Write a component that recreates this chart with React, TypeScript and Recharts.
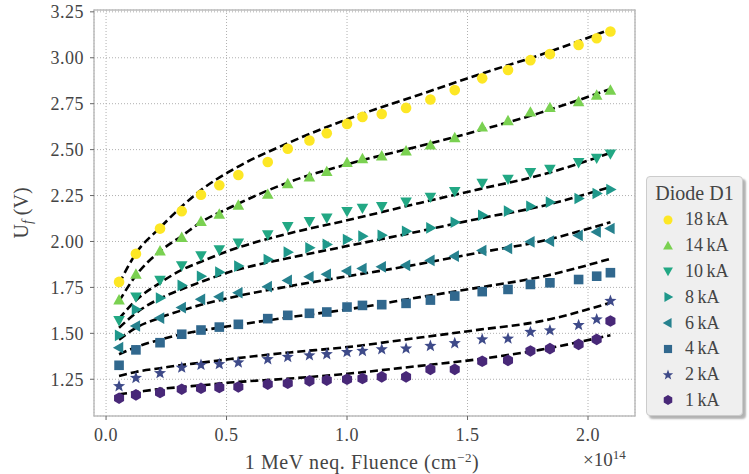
import React from 'react';
import { ComposedChart, Scatter, Line, XAxis, YAxis, CartesianGrid, ReferenceArea, Label } from 'recharts';

// 1 MeV neq. fluence in units of 1e14 cm^-2
const FLUENCE = [0.054, 0.124, 0.224, 0.314, 0.394, 0.47, 0.549, 0.671, 0.754, 0.844, 0.916, 1.0, 1.064, 1.144, 1.245, 1.346, 1.447, 1.561, 1.668, 1.761, 1.842, 1.961, 2.036, 2.093];

// forward voltage U_f (V) per pulse current
const U_18KA = [1.78, 1.933, 2.07, 2.165, 2.254, 2.306, 2.362, 2.433, 2.505, 2.55, 2.589, 2.64, 2.678, 2.694, 2.727, 2.773, 2.824, 2.888, 2.933, 2.987, 3.02, 3.07, 3.106, 3.143];
const U_14KA = [1.68, 1.82, 1.947, 2.02, 2.107, 2.147, 2.196, 2.255, 2.313, 2.35, 2.379, 2.428, 2.449, 2.464, 2.491, 2.523, 2.563, 2.621, 2.656, 2.703, 2.727, 2.759, 2.795, 2.822];
const U_10KA = [1.571, 1.7, 1.79, 1.87, 1.924, 1.957, 1.993, 2.038, 2.083, 2.11, 2.129, 2.165, 2.183, 2.192, 2.216, 2.243, 2.273, 2.319, 2.341, 2.377, 2.395, 2.431, 2.455, 2.478];
const U_8KA = [1.489, 1.63, 1.692, 1.761, 1.811, 1.833, 1.866, 1.902, 1.942, 1.966, 1.984, 2.011, 2.029, 2.034, 2.056, 2.074, 2.105, 2.143, 2.165, 2.192, 2.214, 2.234, 2.261, 2.283];
const U_6KA = [1.422, 1.54, 1.583, 1.64, 1.685, 1.699, 1.721, 1.754, 1.788, 1.808, 1.821, 1.839, 1.853, 1.862, 1.87, 1.897, 1.92, 1.951, 1.962, 1.998, 2.002, 2.033, 2.052, 2.071];
const U_4KA = [1.326, 1.41, 1.449, 1.495, 1.518, 1.534, 1.549, 1.58, 1.598, 1.609, 1.616, 1.643, 1.652, 1.656, 1.663, 1.681, 1.703, 1.727, 1.739, 1.766, 1.775, 1.793, 1.811, 1.83];
const U_2KA = [1.212, 1.257, 1.283, 1.313, 1.328, 1.332, 1.341, 1.359, 1.371, 1.38, 1.386, 1.398, 1.404, 1.413, 1.417, 1.431, 1.446, 1.467, 1.471, 1.507, 1.516, 1.545, 1.576, 1.676];
const U_1KA = [1.147, 1.165, 1.178, 1.196, 1.201, 1.205, 1.208, 1.223, 1.228, 1.241, 1.245, 1.25, 1.254, 1.263, 1.263, 1.304, 1.304, 1.348, 1.353, 1.404, 1.417, 1.44, 1.467, 1.567];

// fitted curves, sampled along the fluence axis
const FIT_FLUENCE = [0.054, 0.124, 0.224, 0.314, 0.394, 0.515, 0.763, 1.0, 1.303, 1.55, 1.8, 2.093];
const FIT_18KA = [1.77, 1.935, 2.075, 2.19, 2.28, 2.383, 2.54, 2.665, 2.8, 2.91, 3.015, 3.155];
const FIT_14KA = [1.675, 1.815, 1.947, 2.03, 2.105, 2.185, 2.325, 2.42, 2.52, 2.605, 2.7, 2.83];
const FIT_10KA = [1.58, 1.68, 1.775, 1.845, 1.89, 1.952, 2.045, 2.115, 2.21, 2.285, 2.36, 2.482];
const FIT_8KA = [1.53, 1.61, 1.69, 1.74, 1.78, 1.835, 1.911, 1.975, 2.056, 2.125, 2.19, 2.297];
const FIT_6KA = [1.465, 1.53, 1.585, 1.625, 1.655, 1.694, 1.757, 1.81, 1.878, 1.94, 2.0, 2.105];
const FIT_4KA = [1.386, 1.425, 1.465, 1.495, 1.515, 1.54, 1.588, 1.63, 1.697, 1.75, 1.806, 1.906];
const FIT_2KA = [1.268, 1.29, 1.31, 1.328, 1.34, 1.36, 1.396, 1.425, 1.477, 1.52, 1.565, 1.667];
const FIT_1KA = [1.168, 1.18, 1.197, 1.208, 1.217, 1.232, 1.254, 1.28, 1.323, 1.36, 1.41, 1.49];

const X_TICKS = [0, 0.5, 1, 1.5, 2];
const Y_TICKS = [1.25, 1.5, 1.75, 2, 2.25, 2.5, 2.75, 3, 3.25];

const SERIES = [
  { name: '18\u2009kA', color: '#fde725', marker: 'circle', values: U_18KA, fit: FIT_18KA },
  { name: '14\u2009kA', color: '#7ad151', marker: 'up', values: U_14KA, fit: FIT_14KA },
  { name: '10\u2009kA', color: '#22a884', marker: 'down', values: U_10KA, fit: FIT_10KA },
  { name: '8\u2009kA', color: '#1f988b', marker: 'right', values: U_8KA, fit: FIT_8KA },
  { name: '6\u2009kA', color: '#26818e', marker: 'left', values: U_6KA, fit: FIT_6KA },
  { name: '4\u2009kA', color: '#31688e', marker: 'square', values: U_4KA, fit: FIT_4KA },
  { name: '2\u2009kA', color: '#3e4a89', marker: 'star', values: U_2KA, fit: FIT_2KA },
  { name: '1\u2009kA', color: '#482878', marker: 'hexagon', values: U_1KA, fit: FIT_1KA },
];

const FONT = 'Liberation Serif, DejaVu Serif, serif';
const TEXT = '#444';

const toPoints = (xs: number[], ys: number[]) => xs.map((x, i) => ({ x, y: ys[i] }));

function Marker({ kind, cx, cy, fill, s = 1 }: { kind: string; cx: number; cy: number; fill: string; s?: number }) {
  const poly = (pts: number[][]) => <polygon points={pts.map(([x, y]) => `${cx + x * s},${cy + y * s}`).join(' ')} fill={fill} />;
  switch (kind) {
    case 'circle':
      return <circle cx={cx} cy={cy} r={5.3 * s} fill={fill} />;
    case 'up':
      return poly([[0, -6.2], [5.8, 4.2], [-5.8, 4.2]]);
    case 'down':
      return poly([[0, 6.2], [5.8, -4.2], [-5.8, -4.2]]);
    case 'right':
      return poly([[6.2, 0], [-4.2, -5.8], [-4.2, 5.8]]);
    case 'left':
      return poly([[-6.2, 0], [4.2, -5.8], [4.2, 5.8]]);
    case 'square':
      return <rect x={cx - 4.8 * s} y={cy - 4.8 * s} width={9.6 * s} height={9.6 * s} fill={fill} />;
    case 'star': {
      const pts: number[][] = [];
      for (let i = 0; i < 10; i++) {
        const r = i % 2 === 0 ? 6.4 : 2.7;
        const a = -Math.PI / 2 + (i * Math.PI) / 5;
        pts.push([r * Math.cos(a), r * Math.sin(a)]);
      }
      return poly(pts);
    }
    default: {
      const pts: number[][] = [];
      for (let i = 0; i < 6; i++) {
        const a = -Math.PI / 2 + (i * Math.PI) / 3;
        pts.push([5.8 * Math.cos(a), 5.8 * Math.sin(a)]);
      }
      return poly(pts);
    }
  }
}

function DiodeLegend() {
  return (
    <div
      style={{
        position: 'absolute',
        left: 646,
        top: 176,
        width: 97,
        height: 240,
        boxSizing: 'border-box',
        background: '#efefef',
        border: '1px solid #cccccc',
        borderRadius: 4,
        boxShadow: '3px 3px 2px rgba(0,0,0,0.3)',
        fontFamily: FONT,
        color: TEXT,
      }}
    >
      <div style={{ height: 30, lineHeight: '32px', fontSize: 20, textAlign: 'center' }}>Diode D1</div>
      {SERIES.map((s) => (
        <div key={s.name} style={{ height: 25.8, display: 'flex', alignItems: 'center', paddingLeft: 14 }}>
          <svg width={14} height={14}>
            <Marker kind={s.marker} cx={7} cy={7} fill={s.color} s={0.85} />
          </svg>
          <span style={{ marginLeft: 10, fontSize: 18 }}>{s.name}</span>
        </div>
      ))}
    </div>
  );
}

export default function App() {
  const tickStyle = { fill: TEXT, fontSize: 18, fontFamily: FONT, letterSpacing: 0.5 };
  return (
    <div style={{ position: 'absolute', left: 0, top: 0, width: 749, height: 474, background: '#fff', fontFamily: FONT }}>
      <ComposedChart width={749} height={474} margin={{ top: 10, right: 114, bottom: 0, left: 0 }} style={{ fontFamily: FONT }}>
        <CartesianGrid stroke="#b0b0b0" strokeDasharray="1 2" strokeWidth={1} />
        <ReferenceArea x1={-0.05} x2={2.195} y1={1.05} y2={3.26} fill="none" stroke="#bdbdbd" strokeWidth={1.5} ifOverflow="visible" />
        <XAxis
          type="number"
          dataKey="x"
          domain={[-0.05, 2.195]}
          ticks={X_TICKS}
          tickFormatter={(v: number) => v.toFixed(1)}
          height={58}
          axisLine={false}
          tickLine={{ stroke: '#666' }}
          tickSize={4}
          tickMargin={8}
          tick={tickStyle}
          allowDataOverflow
        >
          <Label
            content={() => (
              <g style={{ fontFamily: FONT }} fill={TEXT}>
                <text x={362} y={469} textAnchor="middle" fontSize={20} letterSpacing={0.6} style={{ fontFamily: FONT }}>
                  1 MeV neq. Fluence (cm<tspan dy={-7} fontSize={13}>−2</tspan>
                  <tspan dy={7}>)</tspan>
                </text>
                <text x={583} y={466} fontSize={19} style={{ fontFamily: FONT }}>
                  ×10<tspan dy={-7} fontSize={13}>14</tspan>
                </text>
              </g>
            )}
          />
        </XAxis>
        <YAxis
          type="number"
          dataKey="y"
          domain={[1.05, 3.26]}
          ticks={Y_TICKS}
          tickFormatter={(v: number) => v.toFixed(2)}
          width={94}
          axisLine={false}
          tickLine={{ stroke: '#666' }}
          tickSize={4}
          tickMargin={6}
          tick={tickStyle}
          allowDataOverflow
        >
          <Label
            content={() => (
              <text x={28} y={213} transform="rotate(-90 28 213)" textAnchor="middle" fontSize={20} fill={TEXT} style={{ fontFamily: FONT }}>
                U<tspan dy={4} fontSize={14} fontStyle="italic">f</tspan>
                <tspan dy={-4}> (V)</tspan>
              </text>
            )}
          />
        </YAxis>
        {SERIES.map((s) => (
          <Scatter
            key={`pts-${s.name}`}
            name={s.name}
            data={toPoints(FLUENCE, s.values)}
            isAnimationActive={false}
            shape={(p: any) => <Marker kind={s.marker} cx={p.cx} cy={p.cy} fill={s.color} />}
          />
        ))}
        {SERIES.map((s) => (
          <Line
            key={`fit-${s.name}`}
            data={toPoints(FIT_FLUENCE, s.fit)}
            dataKey="y"
            type="monotone"
            stroke="#000"
            strokeWidth={2.6}
            strokeDasharray="8 4"
            dot={false}
            activeDot={false}
            isAnimationActive={false}
          />
        ))}
      </ComposedChart>
      <DiodeLegend />
    </div>
  );
}
